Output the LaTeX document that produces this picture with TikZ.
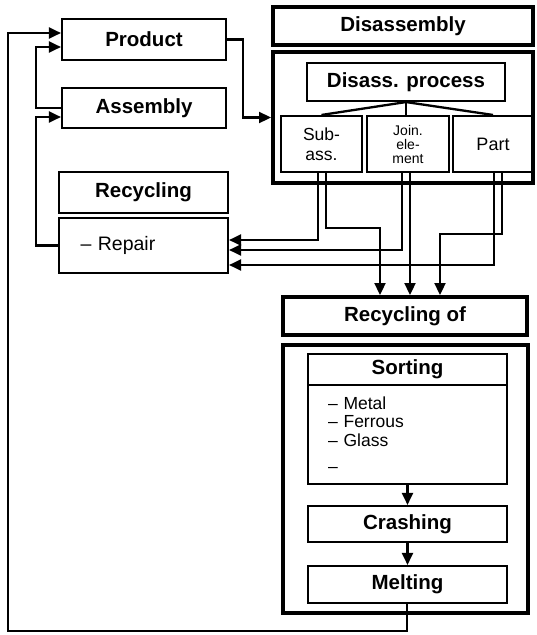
\documentclass[tikz,border=0pt]{standalone}
\usepackage{fontspec}
\setmainfont{Liberation Sans}
\usetikzlibrary{arrows.meta}
\begin{document}
\begin{tikzpicture}[x=1pt,y=-1pt,
  bfont/.style={font=\fontsize{20.5}{24}\selectfont\bfseries},
  nfont/.style={font=\fontsize{18}{21}\selectfont},
  box/.style={draw,line width=2.1pt,inner sep=0pt,align=center},
  heavybox/.style={draw,line width=4pt,inner sep=0pt,align=center},
  conn/.style={line width=2.3pt},
  arr/.style={conn,-{Triangle[length=12pt,width=11pt]}}]
\useasboundingbox (0,0) rectangle (536,635);

% left column
\node[box,bfont,minimum width=164pt,minimum height=41pt] (prod) at (144,39.5) {Product};
\node[box,bfont,minimum width=164pt,minimum height=40pt] (asm) at (144,108) {Assembly};
\node[box,bfont,minimum width=169pt,minimum height=41pt] (recy) at (143.5,192.5) {Recycling};
\node[box,font=\fontsize{19.5}{22}\selectfont,minimum width=169pt,minimum height=55pt,text width=126pt,inner xsep=21.5pt,align=left] (rep) at (143.5,245.5) {– Repair};

% disassembly
\node[heavybox,bfont,minimum width=260pt,minimum height=38pt] (dishead) at (403,26) {Disassembly};
\node[heavybox,minimum width=260pt,minimum height=131pt] (disbox) at (403,117.5) {};
\node[box,bfont,minimum width=198pt,minimum height=38pt] (disproc) at (406,82) {Disass. process};
\node[box,minimum width=81pt,minimum height=56pt,font=\fontsize{17.5}{20}\selectfont] (sub) at (321.5,144) {Sub-\\ass.};
\node[box,minimum width=82pt,minimum height=56pt,font=\fontsize{14}{14}\selectfont] (join) at (408,144) {Join.\\ele-\\ment};
\node[box,font=\fontsize{18}{21}\selectfont,minimum width=80pt,minimum height=56pt] (part) at (493,144) {Part};
\draw[conn] (disproc.south) -- (sub.north);
\draw[conn] (disproc.south) -- (disproc.south |- join.north);
\draw[conn] (disproc.south) -- (part.north);

% recycling of
\node[heavybox,bfont,minimum width=244pt,minimum height=38pt] (recof) at (405,316) {Recycling of};
\node[heavybox,minimum width=245pt,minimum height=268pt] (lowbox) at (405.5,479) {};
\node[box,bfont,minimum width=199pt,minimum height=31pt] (sorthead) at (407.5,369.5) {Sorting};
\node[box,font=\fontsize{17.5}{18.5}\selectfont,minimum width=199pt,minimum height=99pt,text width=179pt,inner xsep=0pt,align=left] (sortbody) at (407.5,434.5) {\hspace*{10pt}– Metal\\\hspace*{10pt}– Ferrous\\\hspace*{10pt}– Glass\\[8pt]\hspace*{10pt}–};
\node[box,bfont,minimum width=199pt,minimum height=36pt] (crash) at (407.5,524) {Crashing};
\node[box,bfont,minimum width=199pt,minimum height=37pt] (melt) at (407.5,584.5) {Melting};
\draw[arr] (sortbody.south) -- (crash.north);
\draw[arr] (crash.south) -- (melt.north);

% connectors
\draw[arr] (prod.east) -- ++(16,0) |- (disbox.west);
\draw[arr] (asm.west) -- ++(-25,0) |- ([yshift=-7.5pt]prod.west);
\draw[arr] (rep.west) -- ++(-22,0) |- ([yshift=-9pt]asm.west);
\draw[arr] ([xshift=-0.5pt]melt.south) -- ++(0,27) -| (8,33) -- ([yshift=6.5pt]prod.west);

\draw[arr] ([xshift=-3.5pt]sub.south) |- ([yshift=5.5pt]rep.east);
\draw[arr] ([xshift=4.5pt]sub.south) -- ++(0,55) -| ([xshift=-25pt]recof.north);
\draw[arr] ([xshift=-6pt]join.south) |- ([yshift=-4.5pt]rep.east);
\draw[arr] ([xshift=2pt]join.south) -- ([xshift=5pt]recof.north);
\draw[arr] ([xshift=1pt]part.south) |- ([yshift=-19.5pt]rep.east);
\draw[arr] ([xshift=9pt]part.south) -- ++(0,61) -| ([xshift=35pt]recof.north);
\end{tikzpicture}
\end{document}
